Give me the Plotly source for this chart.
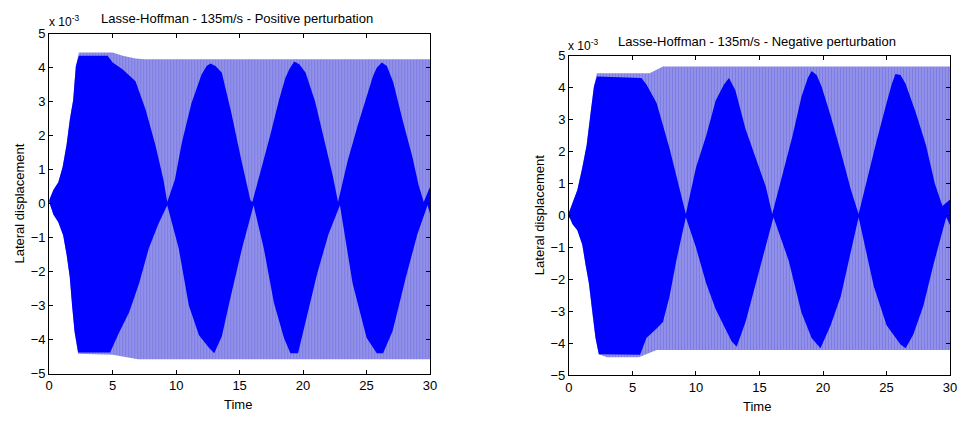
import plotly.graph_objects as go

W, H = 962, 423

# ---------------- Data (values in units of 1e-3) ----------------
# Left panel: Positive perturbation
L_OUT_TOP_T = [0, 0.33, 0.72, 1.06, 1.37, 1.63, 1.89, 2.1, 2.34, 5.0, 5.8, 6.8, 7.5, 30]
L_OUT_TOP_V = [0.1, 0.4, 0.63, 1.08, 1.73, 2.48, 3.05, 4.04, 4.45, 4.45, 4.35, 4.27, 4.25, 4.25]
L_OUT_BOT_T = [0, 0.33, 0.72, 1.1, 1.37, 1.62, 1.8, 2.0, 2.28, 5.0, 7.0, 30]
L_OUT_BOT_V = [0.05, -0.32, -0.55, -0.93, -1.5, -2.16, -3.0, -3.77, -4.42, -4.45, -4.58, -4.58]

L_DARK_TOP_T = [0, 0.33, 0.72, 1.06, 1.37, 1.63, 1.89, 2.1, 2.34, 4.6, 5.0, 5.8, 6.8, 7.6,
                8.37, 9.0, 9.3, 9.9, 10.45, 11.2, 12.0, 12.4, 12.7, 13.1, 13.6, 14.35, 15.1,
                15.85, 16.0, 16.6, 17.4, 18.1, 18.6, 18.9, 19.3, 19.7, 20.2, 20.95, 21.7,
                22.35, 22.75, 23.5, 24.3, 25.1, 25.5, 25.8, 26.2, 26.6, 27.1, 27.85, 28.6,
                29.1, 29.5, 30]
L_DARK_TOP_V = [0.1, 0.4, 0.63, 1.08, 1.73, 2.48, 3.05, 4.04, 4.35, 4.35, 4.15, 3.95, 3.6, 2.76,
                1.72, 0.7, 0.05, 0.7, 1.8, 2.95, 3.8, 4.05, 4.12, 4.05, 3.85, 2.67, 1.34,
                0.1, 0.05, 0.87, 2.0, 3.05, 3.7, 3.95, 4.18, 4.1, 3.85, 3.0, 1.86,
                0.8, 0.05, 1.25, 2.3, 3.24, 3.75, 4.0, 4.15, 4.05, 3.57, 2.44, 1.39,
                0.54, 0.05, 0.5]
L_DARK_BOT_T = [0, 0.33, 0.72, 1.1, 1.37, 1.62, 1.8, 2.0, 2.28, 4.8, 5.5, 6.3, 7.08, 7.85,
                8.6, 9.3, 10.2, 11.0, 11.8, 12.6, 13.0, 13.6, 14.3, 15.2, 16.1, 16.9, 17.7,
                18.5, 19.0, 19.6, 20.2, 21.1, 22.0, 22.9, 23.9, 25.0, 25.8, 26.3, 27.05,
                28.1, 29.0, 29.8, 30]
L_DARK_BOT_V = [0.05, -0.32, -0.55, -0.93, -1.5, -2.16, -3.0, -3.77, -4.38, -4.38, -3.8, -3.2,
                -2.35, -1.31, -0.6, -0.05, -1.31, -3.0, -3.87, -4.25, -4.4, -3.9, -2.73, -1.3,
                -0.05, -1.31, -2.92, -3.96, -4.4, -4.4, -3.49, -2.07, -0.9, -0.05, -2.35,
                -3.95, -4.4, -4.4, -3.75, -2.16, -0.9, -0.05, -0.3]

# Right panel: Negative perturbation
R_OUT_TOP_T = [0, 0.27, 0.66, 1.05, 1.39, 1.7, 1.96, 2.2, 6.35, 7.4, 30]
R_OUT_TOP_V = [0.1, 0.4, 0.8, 1.5, 2.2, 3.2, 4.02, 4.45, 4.45, 4.66, 4.66]
R_OUT_BOT_T = [0, 0.1, 0.27, 0.66, 1.05, 1.3, 1.57, 1.83, 2.09, 2.35, 3.0, 5.5, 6.9, 30]
R_OUT_BOT_V = [-0.05, -0.1, -0.26, -0.46, -0.91, -1.52, -2.12, -3.03, -3.83, -4.34, -4.43,
               -4.43, -4.2, -4.2]

R_DARK_TOP_T = [0, 0.27, 0.66, 1.05, 1.39, 1.7, 1.96, 2.2, 5.7, 6.1, 6.9, 7.92, 8.7, 9.2,
                10.0, 10.8, 11.55, 12.2, 12.6, 13.1, 13.9, 14.7, 15.5, 16.0, 16.8, 17.6,
                18.3, 18.8, 19.1, 19.5, 19.9, 20.6, 21.4, 22.2, 22.8, 23.5, 24.2, 25.0,
                25.4, 25.7, 26.1, 26.5, 27.3, 28.1, 28.8, 29.4, 30]
R_DARK_TOP_V = [0.1, 0.4, 0.8, 1.5, 2.2, 3.2, 4.02, 4.35, 4.3, 4.1, 3.52, 2.1, 0.8, 0.05,
                1.5, 2.5, 3.6, 4.1, 4.3, 3.92, 2.71, 1.8, 0.9, 0.05, 1.3, 2.5,
                3.72, 4.3, 4.52, 4.4, 4.02, 3.12, 2.0, 0.8, 0.05, 1.2, 2.31, 3.52,
                4.1, 4.43, 4.4, 4.12, 3.22, 2.21, 1.0, 0.3, 0.5]
R_DARK_BOT_T = [0, 0.1, 0.27, 0.66, 1.05, 1.3, 1.57, 1.83, 2.09, 2.35, 5.6, 6.1, 6.9, 7.4,
                7.92, 8.45, 9.2, 10.0, 10.8, 11.55, 12.3, 12.8, 13.2, 13.9, 14.8, 16.1,
                17.3, 18.3, 19.1, 19.8, 20.6, 21.4, 22.8, 24.0, 25.0, 26.1, 26.5, 27.1,
                27.9, 28.7, 29.7, 30]
R_DARK_BOT_V = [-0.05, -0.1, -0.26, -0.46, -0.91, -1.52, -2.12, -3.03, -3.83, -4.34, -4.35,
                -3.83, -3.53, -3.33, -2.52, -1.41, -0.05, -1.0, -2.12, -2.93, -3.53, -3.93,
                -4.1, -3.33, -2.02, -0.05, -1.41, -3.03, -3.83, -4.15, -3.43, -2.52, -0.05,
                -2.22, -3.43, -4.03, -4.15, -3.73, -2.82, -1.52, -0.05, -0.3]

X_TICKS = [0, 5, 10, 15, 20, 25, 30]
Y_TICKS = [-5, -4, -3, -2, -1, 0, 1, 2, 3, 4, 5]
TITLES = ["Lasse-Hoffman - 135m/s - Positive perturbation",
          "Lasse-Hoffman - 135m/s - Negative perturbation"]

BLUE = "#0000ff"
FONT = "Liberation Sans, Arial, sans-serif"
FS = 13


def polygon(tt, tv, bt, bv):
    return list(tt) + list(bt)[::-1], list(tv) + list(bv)[::-1]


fig = go.Figure()

panels = [
    ("x", "y", L_OUT_TOP_T, L_OUT_TOP_V, L_OUT_BOT_T, L_OUT_BOT_V,
     L_DARK_TOP_T, L_DARK_TOP_V, L_DARK_BOT_T, L_DARK_BOT_V),
    ("x2", "y2", R_OUT_TOP_T, R_OUT_TOP_V, R_OUT_BOT_T, R_OUT_BOT_V,
     R_DARK_TOP_T, R_DARK_TOP_V, R_DARK_BOT_T, R_DARK_BOT_V),
]

for xa, ya, ott, otv, obt, obv, dtt, dtv, dbt, dbv in panels:
    px, py = polygon(ott, otv, obt, obv)
    fig.add_trace(go.Scatter(
        x=px, y=py, xaxis=xa, yaxis=ya, mode="lines", fill="toself",
        line=dict(width=0, color=BLUE),
        fillpattern=dict(shape="|", fgcolor="#2020d4", bgcolor="#d8d8f6",
                         size=3, solidity=0.85),
        hoverinfo="skip", showlegend=False))
    dx, dy = polygon(dtt, dtv, dbt, dbv)
    fig.add_trace(go.Scatter(
        x=dx, y=dy, xaxis=xa, yaxis=ya, mode="lines", fill="toself",
        fillcolor=BLUE, line=dict(width=0, color=BLUE),
        hoverinfo="skip", showlegend=False))

# pixel-based domains
L_X = (45.7, 431.0); L_Y = (27.7, 380.0)
R_X = (571.5, 957.0); R_Y = (50.5, 382.0)


def xdom(a):
    return [a[0] / W, a[1] / W]


def ydom(a):
    return [1 - a[1] / H, 1 - a[0] / H]


axis_common = dict(showline=True, linecolor="black", linewidth=1, mirror="allticks",
                   ticks="inside", ticklen=4, tickcolor="black", showgrid=False,
                   zeroline=False, tickfont=dict(family=FONT, size=FS, color="black"))

fig.update_layout(
    width=W, height=H, margin=dict(l=0, r=0, t=0, b=0),
    paper_bgcolor="white", plot_bgcolor="white",
    xaxis=dict(domain=xdom(L_X), range=[0, 30], tickvals=X_TICKS, anchor="y", **axis_common),
    yaxis=dict(domain=ydom(L_Y), range=[-5, 5], tickvals=Y_TICKS, anchor="x", **axis_common),
    xaxis2=dict(domain=xdom(R_X), range=[0, 30], tickvals=X_TICKS, anchor="y2", **axis_common),
    yaxis2=dict(domain=ydom(R_Y), range=[-5, 5], tickvals=Y_TICKS, anchor="x2", **axis_common),
)


def add_text(x, y, text, rot=0, xanchor="center", size=FS):
    fig.add_annotation(x=x / W, y=1 - y / H, xref="paper", yref="paper", text=text,
                       showarrow=False, font=dict(family=FONT, size=size, color="black"),
                       textangle=rot, xanchor=xanchor, yanchor="middle")


# titles
add_text(236, 12, TITLES[0])
add_text(762, 36, TITLES[1])
# exponent labels
add_text(43, 15, "x 10<sup>-3</sup>", xanchor="left", size=12)
add_text(569, 39, "x 10<sup>-3</sup>", xanchor="left", size=12)
# axis titles
add_text(237, 412, "Time")
add_text(762, 414, "Time")
add_text(16, 204, "Lateral displacement", rot=-90)
add_text(542, 216, "Lateral displacement", rot=-90)

fig.write_html("out.html")
